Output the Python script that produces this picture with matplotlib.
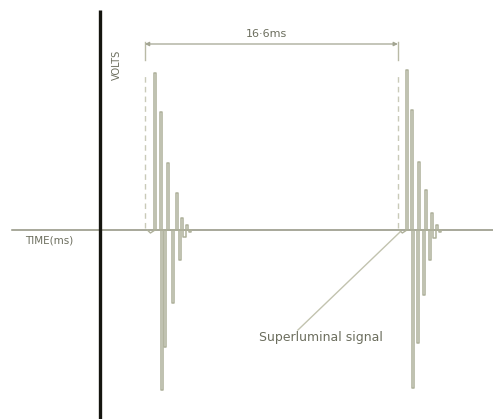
import matplotlib
matplotlib.use("Agg")
import matplotlib.pyplot as plt

# burst start times (ms) and the period between them
burst_start = [2.95, 19.55]
period_label = "16·6ms"

# spike tips: time (ms) and volts, one list per burst
t1 = [3.61, 4.00, 4.07, 4.27, 4.46, 4.79, 5.05, 5.25, 5.38, 5.55, 5.72, 5.92]
v1 = [1.57, 1.18, -1.60, -1.17, 0.67, -0.73, 0.37, -0.30, 0.12, -0.07, 0.05, -0.02]
t2 = [20.14, 20.47, 20.54, 20.87, 20.93, 21.26, 21.39, 21.65, 21.78, 21.95, 22.10, 22.30]
v2 = [1.60, 1.20, -1.58, -1.13, 0.68, -0.65, 0.40, -0.30, 0.17, -0.08, 0.05, -0.02]

sig_color = "#aeb09a"
base_color = "#8f917e"
text_color = "#6c6e5e"

fig = plt.figure(figsize=(4.93, 4.19), dpi=100)
ax = fig.add_axes([0, 0, 1, 1])
ax.set_xlim(-6.56, 25.79)
ax.set_ylim(-1.89, 2.30)
ax.axis("off")

# time axis and volts axis
ax.plot([-5.77, 25.79], [0, 0], color=base_color, lw=1.1)
ax.plot([0, 0], [-1.89, 2.20], color="#15150f", lw=2.4, solid_capstyle="butt")

# spikes drawn as narrow hairpins
w = 0.075
for ts, vs in [(t1, v1), (t2, v2)]:
    for t, v in zip(ts, vs):
        ax.plot([t - w, t - w, t + w, t + w], [0, v, v, 0], color=sig_color, lw=1.1)
    ax.plot([ts[0] - 0.5, ts[0] - 0.3, ts[0]], [0, -0.03, 0], color=sig_color, lw=1.0)

# dashed start markers
for s in burst_start:
    ax.plot([s, s], [0.02, 1.55], color="#c9cab8", lw=1.0, ls=(0, (4, 3)))
    ax.plot([s, s], [1.70, 1.88], color="#b9baa6", lw=1.0)

# period dimension line
ax.annotate("", xy=(burst_start[1], 1.86), xytext=(burst_start[0], 1.86),
            arrowprops=dict(arrowstyle="<|-|>", color="#a3a592", lw=0.9,
                            mutation_scale=6, shrinkA=0, shrinkB=0))
ax.text(sum(burst_start) / 2 - 0.3, 1.96, period_label, ha="center", va="center",
        fontsize=8, color=text_color)

ax.text(-4.92, -0.10, "TIME(ms)", ha="left", va="center", fontsize=7.5, color=text_color)
ax.text(1.12, 1.65, "VOLTS", ha="center", va="center", rotation=90,
        fontsize=7, color=text_color)

# leader to the superluminal signal
ax.plot([19.69, 12.99], [-0.02, -1.00], color="#c2c3af", lw=1.0)
ax.text(14.5, -1.07, "Superluminal signal", ha="center", va="center",
        fontsize=9, color=text_color)

fig.savefig("out.png", dpi=100)
